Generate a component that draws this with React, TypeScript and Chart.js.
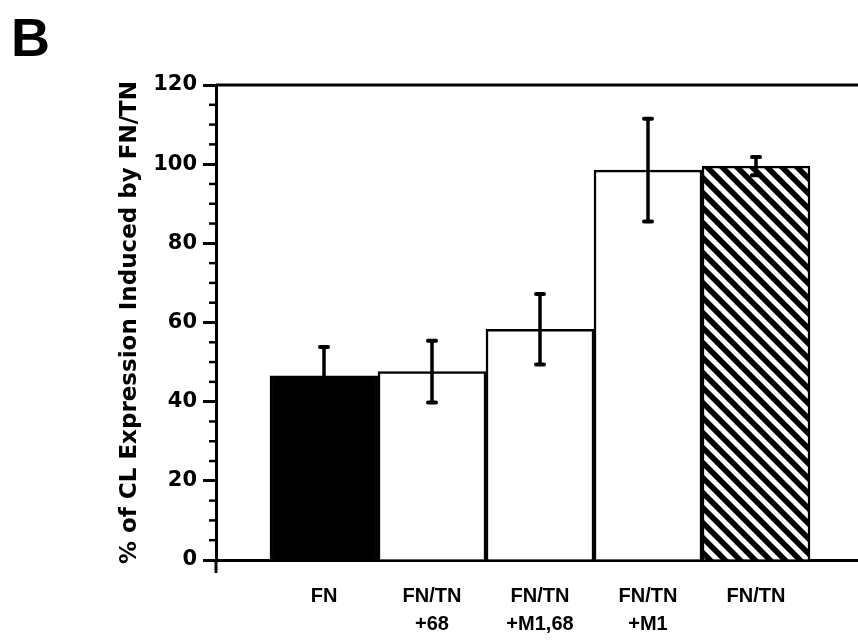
import React, { useEffect, useRef } from "react";
import { Chart, registerables } from "chart.js";

Chart.register(...registerables);

// ---- Data ----
const categories: (string | string[])[] = [
  "FN",
  ["FN/TN", "+68"],
  ["FN/TN", "+M1,68"],
  ["FN/TN", "+M1"],
  "FN/TN",
];
const meanValues = [46.5, 47.6, 58.3, 98.5, 99.5];
const errorValues = [7.3, 7.8, 8.9, 13.0, 2.3];
const yTickValues = [0, 20, 40, 60, 80, 100, 120];
const yTitle = "% of CL Expression Induced by FN/TN";
const panelLabel = "B";

function makeHatch(): CanvasPattern | string {
  const s = 15;
  const c = document.createElement("canvas");
  c.width = s;
  c.height = s;
  const g = c.getContext("2d");
  if (!g) return "#000";
  g.fillStyle = "#fff";
  g.fillRect(0, 0, s, s);
  g.strokeStyle = "#000";
  g.lineWidth = 5.6;
  for (let k = -1; k <= 1; k++) {
    g.beginPath();
    g.moveTo(k * s - 2, -2);
    g.lineTo(k * s + s + 2, s + 2);
    g.stroke();
  }
  const p = g.createPattern(c, "repeat");
  return p || "#000";
}

const decorPlugin = {
  id: "decor",
  afterDatasetsDraw(chart: any) {
    const ctx = chart.ctx;
    const xs = chart.scales.x;
    const ys = chart.scales.y;
    ctx.save();
    ctx.strokeStyle = "#000";
    ctx.lineCap = "round";
    meanValues.forEach((v, i) => {
      const x = xs.getPixelForValue(i + 1);
      const yt = ys.getPixelForValue(v + errorValues[i]);
      const yb = ys.getPixelForValue(v - errorValues[i]);
      ctx.lineWidth = 3.5;
      ctx.beginPath();
      ctx.moveTo(x, yt);
      ctx.lineTo(x, yb);
      ctx.stroke();
      ctx.lineWidth = 4;
      ctx.beginPath();
      ctx.moveTo(x - 4, yt);
      ctx.lineTo(x + 4, yt);
      ctx.moveTo(x - 4, yb);
      ctx.lineTo(x + 4, yb);
      ctx.stroke();
    });
    ctx.restore();
  },
  afterDraw(chart: any) {
    const ctx = chart.ctx;
    const ys = chart.scales.y;
    const { left, right, top, bottom } = chart.chartArea;
    ctx.save();
    ctx.strokeStyle = "#000";
    ctx.lineCap = "butt";
    ctx.lineWidth = 3;
    ctx.beginPath();
    ctx.moveTo(left, top);
    ctx.lineTo(right, top);
    ctx.stroke();
    ctx.beginPath();
    ctx.moveTo(left, bottom);
    ctx.lineTo(left, bottom + 13);
    ctx.stroke();
    ctx.lineWidth = 2.5;
    const minV = ys.min;
    const maxV = ys.max;
    for (let v = minV + 5; v < maxV; v += 5) {
      if (v % 20 === 0) continue;
      const y = ys.getPixelForValue(v);
      ctx.beginPath();
      ctx.moveTo(left - 7, y);
      ctx.lineTo(left + 1, y);
      ctx.stroke();
    }
    ctx.restore();
  },
};

export default function App() {
  const ref = useRef<HTMLCanvasElement | null>(null);

  useEffect(() => {
    if (!ref.current) return;
    const hatch = makeHatch();
    const areaWidth = 858 - 216;
    const slot = 108;
    const chart = new Chart(ref.current, {
      type: "bar",
      data: {
        datasets: [
          {
            data: meanValues.map((v, i) => ({ x: i + 1, y: v })),
            backgroundColor: ["#000", "#fff", "#fff", "#fff", hatch as any],
            borderColor: "#000",
            borderWidth: 2.5,
            barPercentage: 1,
            categoryPercentage: 1,
          },
        ],
      },
      options: {
        responsive: false,
        animation: false,
        layout: { padding: { top: 85, left: 0, right: 0, bottom: 0 } },
        plugins: {
          legend: { display: false },
          tooltip: { enabled: false },
        },
        scales: {
          x: {
            type: "linear",
            offset: false,
            min: 0,
            max: areaWidth / slot,
            grid: { display: false, drawTicks: false, offset: false },
            border: { display: true, color: "#000", width: 3 },
            afterBuildTicks: (scale: any) => {
              scale.ticks = categories.map((_, i) => ({ value: i + 1 }));
            },
            afterFit: (scale: any) => {
              scale.height = 641 - 560;
            },
            ticks: {
              autoSkip: false,
              maxRotation: 0,
              minRotation: 0,
              padding: 22,
              color: "#000",
              font: {
                family: "'Liberation Sans', Arial, sans-serif",
                weight: "bold",
                size: 20,
                lineHeight: 1.4,
              },
              callback: (_v: any, index: number) => categories[index],
            },
          },
          y: {
            type: "linear",
            min: yTickValues[0],
            max: yTickValues[yTickValues.length - 1],
            afterBuildTicks: (scale: any) => {
              scale.ticks = yTickValues.map((v) => ({ value: v }));
            },
            afterFit: (scale: any) => {
              scale.width = 216;
            },
            grid: {
              display: true,
              drawOnChartArea: false,
              drawTicks: true,
              tickLength: 13,
              tickWidth: 3,
              tickColor: "#000",
              color: "#000",
            },
            border: { display: true, color: "#000", width: 3 },
            ticks: {
              padding: 6,
              color: "#000",
              font: {
                family: "'DejaVu Sans', sans-serif",
                weight: "bold",
                size: 21,
              },
            },
            title: {
              display: true,
              text: yTitle,
              color: "#000",
              padding: { top: 116, bottom: 0 },
              font: {
                family: "'DejaVu Sans', sans-serif",
                weight: "bold",
                size: 23,
                lineHeight: 1.2,
              },
            },
          },
        },
      },
      plugins: [decorPlugin],
    });
    return () => chart.destroy();
  }, []);

  return (
    <div style={{ position: "absolute", left: 0, top: 0, width: 858, height: 641, background: "#fff" }}>
      <canvas ref={ref} width={858} height={641} style={{ position: "absolute", left: 0, top: 0 }} />
      <div
        style={{
          position: "absolute",
          left: 11,
          top: 10,
          fontFamily: "'Liberation Sans', Arial, sans-serif",
          fontWeight: "bold",
          fontSize: 54,
          lineHeight: "54px",
          color: "#000",
        }}
      >
        {panelLabel}
      </div>
    </div>
  );
}
